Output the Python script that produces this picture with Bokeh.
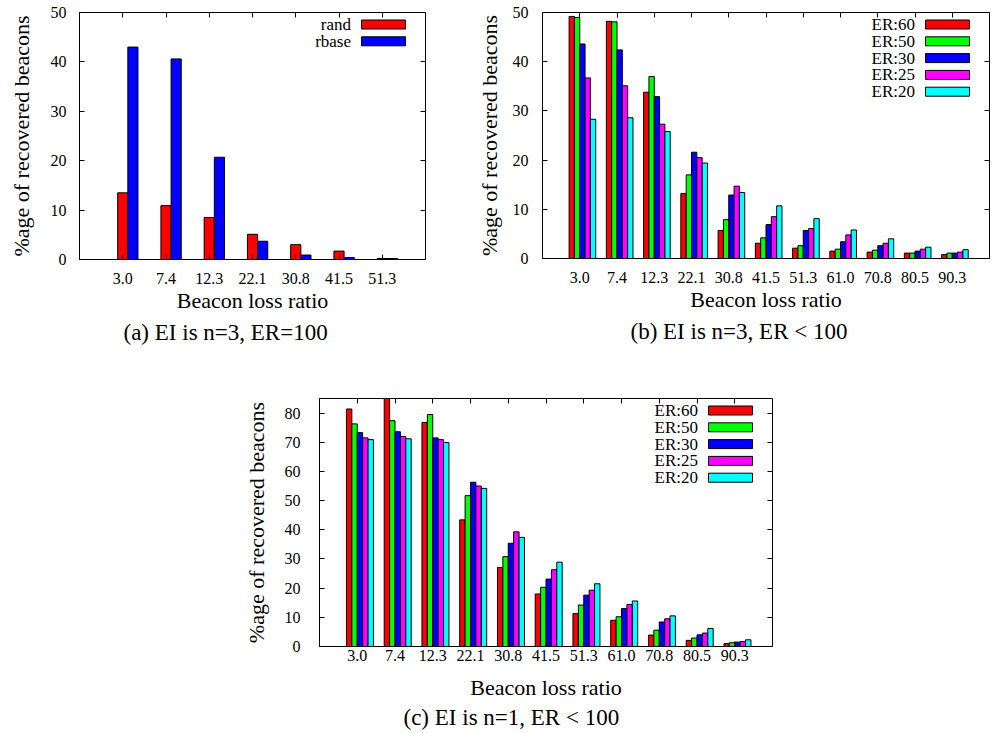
from bokeh.plotting import figure
from bokeh.models import (Range1d, FixedTicker, SingleIntervalTicker, LinearAxis,
                          BoxAnnotation, Label, Title, ColumnDataSource)
from bokeh.transform import dodge
from bokeh.layouts import column, row
from bokeh.embed import file_html
from bokeh.resources import INLINE

FONT = "Liberation Serif"

# ---------------- data ----------------
# (a) EI is n=3, ER=100
ratios_a = ["3.0", "7.4", "12.3", "22.1", "30.8", "41.5", "51.3"]
series_a = ["rand", "rbase"]
rand = [13.5, 10.9, 8.5, 5.1, 3.0, 1.7, 0.2]
rbase = [43.0, 40.6, 20.7, 3.7, 0.9, 0.4, 0.2]
colors_a = ["#ff0000", "#0000ff"]

# (b) EI is n=3, ER < 100  and  (c) EI is n=1, ER < 100
ratios_bc = ["3.0", "7.4", "12.3", "22.1", "30.8", "41.5", "51.3", "61.0", "70.8", "80.5", "90.3"]
series_bc = ["ER:60", "ER:50", "ER:30", "ER:25", "ER:20"]
colors_bc = ["#ff0000", "#00ff00", "#0000ff", "#ff00ff", "#00ffff"]

b_er60 = [49.2, 48.2, 33.8, 13.2, 5.7, 3.1, 2.1, 1.5, 1.3, 1.1, 0.8]
b_er50 = [49.0, 48.1, 37.0, 17.0, 7.9, 4.2, 2.6, 1.9, 1.7, 1.1, 1.1]
b_er30 = [43.6, 42.4, 32.9, 21.6, 12.9, 6.9, 5.7, 3.4, 2.6, 1.5, 1.1]
b_er25 = [36.7, 35.1, 27.3, 20.5, 14.7, 8.5, 6.1, 4.8, 3.1, 1.9, 1.3]
b_er20 = [28.3, 28.6, 25.8, 19.4, 13.4, 10.7, 8.1, 5.8, 4.0, 2.3, 1.8]

c_er60 = [81.4, 85.3, 76.8, 43.4, 27.1, 18.0, 11.3, 9.0, 3.9, 2.1, 1.0]
c_er50 = [76.3, 77.4, 79.5, 51.7, 30.8, 20.3, 14.2, 10.2, 5.6, 2.9, 1.3]
c_er30 = [73.3, 73.6, 71.5, 56.3, 35.4, 23.1, 17.6, 13.0, 8.4, 4.0, 1.5]
c_er25 = [71.5, 72.0, 70.9, 55.0, 39.3, 26.3, 19.3, 14.4, 9.5, 4.6, 1.7]
c_er20 = [70.9, 71.2, 69.9, 54.2, 37.4, 28.9, 21.5, 15.6, 10.5, 6.2, 2.3]

Y_LABEL = "%age of recovered beacons"
X_LABEL = "Beacon loss ratio"


def make_panel(cats, names, values, colors, ymax, bar_w, frame_w, frame_h, borders,
               caption, cap_offset, cap_standoff, ylab_standoff, ytick_standoff,
               xtick_standoff, xlab_standoff):
    bl, br, bt, bb = borders
    idx = list(range(len(cats)))
    data = {"idx": idx, "cat": cats}
    for n, v in zip(names, values):
        data[n] = v
    src = ColumnDataSource(data)
    p = figure(x_range=Range1d(-1, len(cats)), y_range=Range1d(0, ymax),
               frame_width=frame_w, frame_height=frame_h,
               min_border_left=bl, min_border_right=br, min_border_top=bt, min_border_bottom=bb,
               output_backend="svg", toolbar_location=None, background_fill_color="white",
               border_fill_color="white")
    n = len(names)
    for j, (name, col) in enumerate(zip(names, colors)):
        off = (j - n / 2 + 1) * bar_w
        p.vbar(x=dodge("idx", off), top=name, width=bar_w, source=src,
               fill_color=col, line_color="black", line_width=1)
    p.xgrid.visible = False
    p.ygrid.visible = False
    p.outline_line_color = "black"
    p.outline_line_width = 1
    p.outline_line_alpha = 1

    overrides = {i: c for i, c in zip(idx, cats)}

    # bottom axis
    xa = p.xaxis[0]
    xa.ticker = FixedTicker(ticks=idx)
    xa.major_label_overrides = overrides
    xa.minor_tick_line_color = None
    xa.major_tick_in = 5
    xa.major_tick_out = 0
    xa.axis_line_color = "black"
    xa.major_tick_line_color = "black"
    xa.major_label_text_font = FONT
    xa.major_label_text_font_size = "16px"
    xa.major_label_text_color = "black"
    xa.major_label_standoff = xtick_standoff
    xa.axis_label = X_LABEL
    xa.axis_label_text_font = FONT
    xa.axis_label_text_font_size = "22px"
    xa.axis_label_text_font_style = "normal"
    xa.axis_label_text_color = "black"
    xa.axis_label_standoff = xlab_standoff

    # left axis
    ya = p.yaxis[0]
    ya.ticker = SingleIntervalTicker(interval=10)
    ya.major_tick_in = 5
    ya.major_tick_out = 0
    ya.minor_tick_line_color = None
    ya.axis_line_color = "black"
    ya.major_tick_line_color = "black"
    ya.major_label_text_font = FONT
    ya.major_label_text_font_size = "16px"
    ya.major_label_text_color = "black"
    ya.major_label_standoff = ytick_standoff
    ya.axis_label = Y_LABEL
    ya.axis_label_text_font = FONT
    ya.axis_label_text_font_size = "22px"
    ya.axis_label_text_font_style = "normal"
    ya.axis_label_text_color = "black"
    ya.axis_label_standoff = ylab_standoff

    # mirrored ticks (gnuplot style)
    top = LinearAxis(ticker=FixedTicker(ticks=idx), major_tick_in=5, major_tick_out=0,
                     axis_line_color=None, minor_tick_line_color=None,
                     major_label_text_font_size="1px", major_label_text_color=None,
                     major_label_standoff=0, major_tick_line_color="black")
    p.add_layout(top, "above")
    right = LinearAxis(ticker=SingleIntervalTicker(interval=10), major_tick_in=5, major_tick_out=0,
                       axis_line_color=None, minor_tick_line_color=None,
                       major_label_text_font_size="1px", major_label_text_color=None,
                       major_label_standoff=0, major_tick_line_color="black")
    p.add_layout(right, "right")

    # gnuplot-like key: right-aligned text, then a bordered swatch
    box_w, box_h, gap, right_margin, first_c, step = 44, 9, 10.5, 20, 12, 16.8
    for j, (name, col) in enumerate(zip(names, colors)):
        cy = frame_h - first_c - j * step
        x_right = frame_w - right_margin
        p.add_layout(BoxAnnotation(left=x_right - box_w, right=x_right,
                                   bottom=cy - box_h / 2, top=cy + box_h / 2,
                                   left_units="screen", right_units="screen",
                                   top_units="screen", bottom_units="screen",
                                   fill_color=col, fill_alpha=1, line_color="black",
                                   line_width=1, line_alpha=1))
        p.add_layout(Label(x=x_right - box_w - gap, y=cy, x_units="screen", y_units="screen",
                           text=name, text_align="right", text_baseline="middle",
                           text_font=FONT, text_font_size="17px", text_color="black"))

    p.add_layout(Title(text=caption, align="left", offset=cap_offset, standoff=cap_standoff,
                       text_font=FONT, text_font_size="23px", text_font_style="normal",
                       text_color="black"), "below")
    return p


pa = make_panel(ratios_a, series_a, [rand, rbase], colors_a, 50, 0.235,
                346, 247, (79, 35, 12, 91), "(a) EI is n=3, ER=100", 44, 4,
                14, 9, 13, 1)
pb = make_panel(ratios_bc, series_bc, [b_er60, b_er50, b_er30, b_er25, b_er20], colors_bc, 50, 0.143,
                447, 246, (82, 3, 12, 92), "(b) EI is n=3, ER < 100", 88, 4,
                8, 10, 13, 1)
pc = make_panel(ratios_bc, series_bc, [c_er60, c_er50, c_er30, c_er25, c_er20], colors_bc, 85, 0.143,
                453, 248, (319, 20, 48, 87), "(c) EI is n=1, ER < 100", 84, 1,
                13, 15, 3, 11)

layout = column(row(pa, pb), pc)
open("out.html", "w").write(file_html(layout, INLINE))
